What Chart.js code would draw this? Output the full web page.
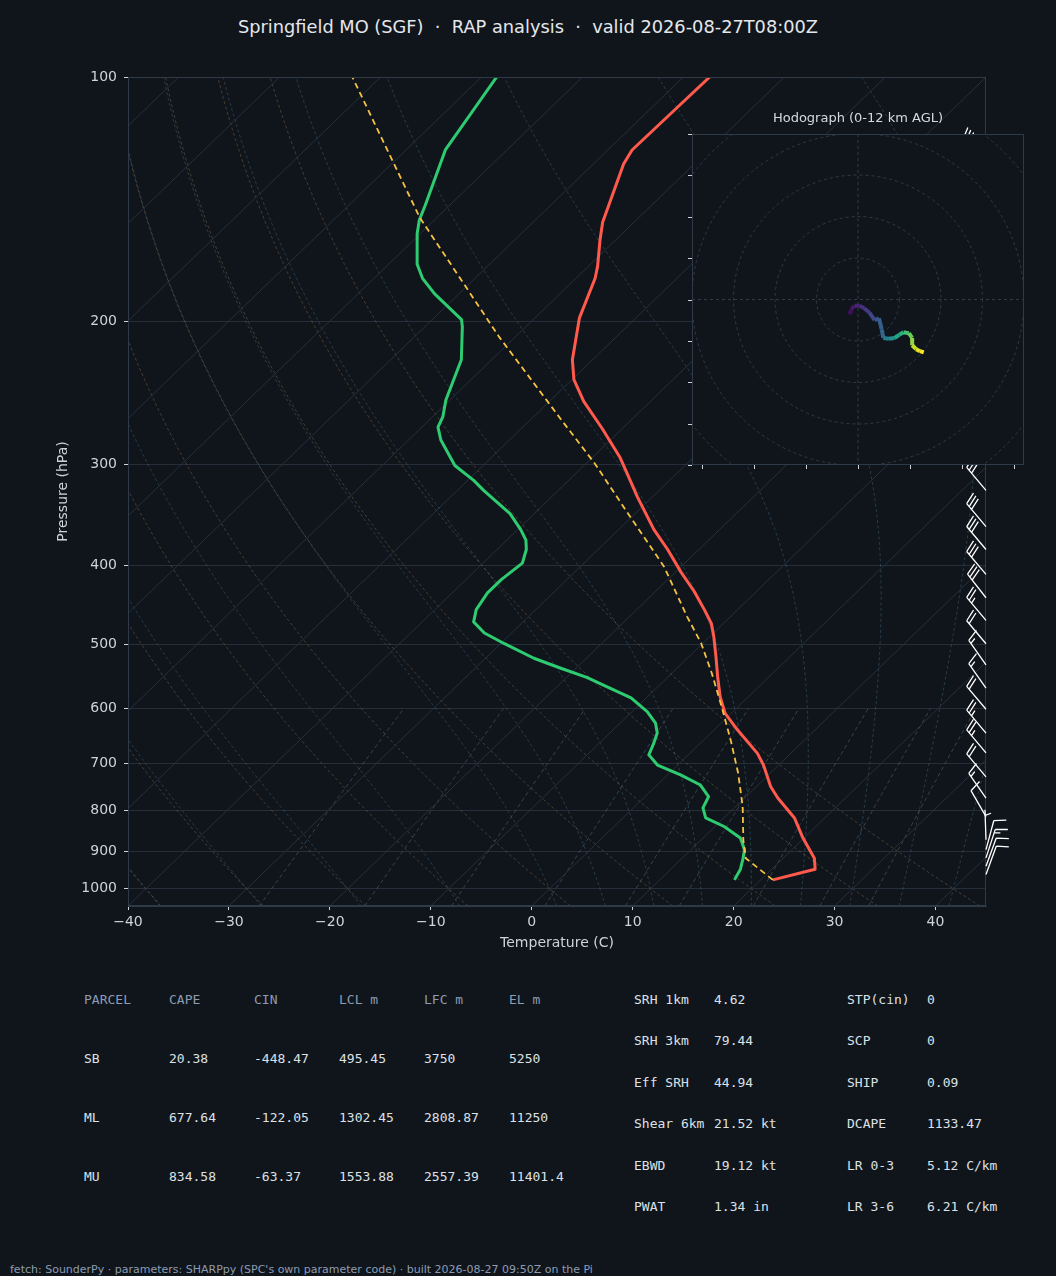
<!DOCTYPE html>
<html>
<head>
<meta charset="utf-8">
<script src="https://cdn.jsdelivr.net/npm/chart.js@4.4.1/dist/chart.umd.min.js"></script>
<style>
html, body { margin: 0; padding: 0; background: #10151c; }
body { width: 1056px; height: 1276px; position: relative; overflow: hidden; font-family: 'DejaVu Sans', sans-serif; }
#main { position: absolute; left: 0; top: 0; }
#hodo { position: absolute; left: 672px; top: 100px; }
#title { position: absolute; left: 0; top: 16px; width: 1056px; text-align: center; color: #e4e7eb; font-size: 17.8px; line-height: 22px; white-space: pre; }
.t { position: absolute; white-space: pre; line-height: 16px; font-family: 'DejaVu Sans Mono', monospace; font-size: 13px; }
#foot { position: absolute; left: 10px; top: 1263px; font-size: 11px; color: #8d9cb2; line-height: 14px; white-space: pre; }
</style>
</head>
<body>
<div id="title"></div>
<canvas id="main" width="1056" height="960"></canvas>
<canvas id="hodo" width="372" height="385"></canvas>
<div id="tables"></div>
<div id="foot"></div>
<script>
const TITLE = 'Springfield MO (SGF)  \u00b7  RAP analysis  \u00b7  valid 2026-08-27T08:00Z';
const FOOTER = "fetch: SounderPy \u00b7 parameters: SHARPpy (SPC's own parameter code) \u00b7 built 2026-08-27 09:50Z on the Pi";

// sounding: pressure (hPa) / temperature (C)
const envP = [975, 946, 917, 866, 818, 773, 748, 704, 681, 637, 608, 580, 548, 518, 489, 471, 453, 430, 407, 382, 361, 329, 314, 294, 271, 251, 236, 223, 198, 177, 171, 159, 151, 128, 123, 100];
const envT = [21.2, 24.3, 23.1, 19.9, 17.0, 13.3, 11.4, 8.5, 6.7, 2.3, -0.6, -2.8, -5.1, -7.3, -9.6, -11.2, -13.3, -16.2, -19.5, -23.1, -26.5, -31.5, -33.9, -37.3, -42.0, -46.6, -49.8, -52.0, -55.6, -58.1, -59.1, -61.5, -63.1, -67.0, -67.6, -67.4];

const dewP = [975, 946, 919, 895, 866, 838, 818, 795, 770, 745, 724, 704, 684, 662, 643, 625, 605, 582, 564, 549, 535, 520, 499, 484, 469, 453, 432, 416, 397, 382, 372, 361, 345, 323, 314, 301, 280, 270, 262, 250, 223, 203, 199, 185, 177, 170, 156, 150, 144, 130, 123, 100];
const dewT = [17.4, 16.9, 16.1, 15.3, 13.7, 10.9, 8.2, 6.9, 6.3, 4.3, 1.3, -2.0, -3.9, -4.6, -5.3, -6.5, -8.5, -11.5, -15.0, -18.0, -21.5, -25.2, -29.6, -32.7, -34.9, -35.9, -36.5, -36.5, -36.1, -37.1, -38.1, -39.7, -42.4, -47.4, -49.4, -52.8, -56.8, -58.4, -59.0, -60.4, -63.0, -66.3, -67.1, -72.4, -75.2, -77.2, -80.3, -81.5, -82.4, -84.8, -86.1, -88.5];

const parcelP = [975, 917, 871, 792, 720, 656, 597, 543, 498, 462, 401, 341, 299, 265, 209, 149, 100];
const parcelT = [21.2, 16.3, 14.2, 10.7, 6.8, 2.7, -1.6, -6.0, -10.2, -14.3, -21.7, -31.4, -39.2, -46.8, -61.6, -81.7, -102.8];

// wind barbs (hPa, direction deg, knots)
const windP = [126, 134, 143, 153, 163, 174, 186, 198, 211, 226, 241, 257, 274, 293, 323, 358, 382, 410, 438, 467, 499, 530, 566, 601, 643, 680, 728, 773, 815, 870, 895, 916, 938, 960];
const windDir = [310, 310, 310, 312, 312, 312, 315, 315, 315, 315, 318, 318, 318, 320, 320, 320, 320, 320, 322, 320, 320, 325, 325, 320, 320, 320, 320, 325, 330, 358, 15, 18, 20, 20];
const windKt = [40, 40, 40, 40, 35, 35, 35, 35, 35, 35, 35, 30, 30, 30, 30, 30, 30, 30, 30, 25, 20, 15, 15, 20, 25, 25, 20, 15, 10, 5, 10, 15, 10, 10];

// hodograph trace (km AGL, u, v in kt)
const hodoKm = [0, 0.4, 0.8, 1.2, 1.6, 2.0, 2.5, 3.0, 3.5, 4.0, 5.0, 6.0, 7.0, 7.6, 8.4, 9.2, 10.0, 10.8, 11.5, 12.0];
const hodoU = [-4.0, -3.2, -1.6, 0.8, 3.0, 5.6, 8.0, 10.1, 11.4, 12.2, 14.9, 17.6, 20.0, 21.9, 24.5, 26.1, 26.1, 28.0, 29.9, 31.7];
const hodoV = [-7.2, -4.8, -3.0, -3.0, -4.2, -6.4, -10.0, -9.1, -14.4, -18.6, -19.0, -18.6, -17.0, -15.8, -16.3, -18.6, -22.1, -24.0, -25.0, -25.6];

const tempTicks = [-40, -30, -20, -10, 0, 10, 20, 30, 40];
const presTicks = [100, 200, 300, 400, 500, 600, 700, 800, 900, 1000];
const hodoRings = [20, 40, 60, 80, 100];
const hodoXTicks = [-75, -50, -25, 0, 25, 50, 75];
const hodoYTicks = [-80, -60, -40, -20, 0, 20, 40, 60, 80];

// parameter tables
const parcelHead = ['PARCEL', 'CAPE', 'CIN', 'LCL m', 'LFC m', 'EL m'];
const parcelName = ['SB', 'ML', 'MU'];
const parcelCape = ['20.38', '677.64', '834.58'];
const parcelCin = ['-448.47', '-122.05', '-63.37'];
const parcelLcl = ['495.45', '1302.45', '1553.88'];
const parcelLfc = ['3750', '2808.87', '2557.39'];
const parcelEl = ['5250', '11250', '11401.4'];
const kinName = ['SRH 1km', 'SRH 3km', 'Eff SRH', 'Shear 6km', 'EBWD', 'PWAT'];
const kinVal = ['4.62', '79.44', '44.94', '21.52 kt', '19.12 kt', '1.34 in'];
const idxName = ['STP(cin)', 'SCP', 'SHIP', 'DCAPE', 'LR 0-3', 'LR 3-6'];
const idxVal = ['0', '0', '0.09', '1133.47', '5.12 C/km', '6.21 C/km'];

// colours
const BG = '#10151c';
const TXT = '#cfd3d9';
const SPINE = '#2f3a48';
const ISOBAR = '#252e39';
const ISOTHERM = '#27303b';
const DRY = 'rgba(140,110,70,0.45)';
const MOIST = 'rgba(70,115,135,0.42)';
const MIX = 'rgba(95,125,140,0.45)';

Chart.defaults.font.family = "'DejaVu Sans', sans-serif";

// skew-T transform: x value = temperature shifted by log pressure
const PBOT = 1050, PTOP = 100, SKEW = 83.26;
const skx = (t, p) => t + SKEW * Math.log10(PBOT / p);
const pts = (ps, ts) => ps.map((p, i) => ({ x: skx(ts[i], p), y: p }));

// reference lines (thermodynamic background, like metpy does)
const presGrid = [];
for (let i = 0; i <= 40; i++) presGrid.push(PBOT * Math.pow(PTOP / PBOT, i / 40));

function moistGrad(p, T) {
    const tc = T - 273.15;
    const es = 6.112 * Math.exp(17.67 * tc / (tc + 243.5));
    const rs = 0.622 * es / (p - es);
    const Lv = 2.50084e6, Rd = 287.04749;
    return (Rd * T + Lv * rs) / (1004.666 + Lv * Lv * rs * 0.622 / (Rd * T * T)) / p;
}
function moistAt(t0, p) {
    let T = t0 + 273.15, pp = 1000;
    const n = 60, h = (p - 1000) / n;
    for (let i = 0; i < n; i++) {
        const k1 = moistGrad(pp, T);
        const k2 = moistGrad(pp + h / 2, T + h * k1 / 2);
        const k3 = moistGrad(pp + h / 2, T + h * k2 / 2);
        const k4 = moistGrad(pp + h, T + h * k3);
        T += h * (k1 + 2 * k2 + 2 * k3 + k4) / 6;
        pp += h;
    }
    return T - 273.15;
}
function dewFromMix(w, p) {
    const e = w * p / (0.622 + w);
    const l = Math.log(e / 6.112);
    return 243.5 * l / (17.67 - l);
}

const bgSets = [];
function bgLine(data, color, dash) {
    bgSets.push({ data: data, showLine: true, borderColor: color, borderWidth: 1, borderDash: dash, pointRadius: 0, order: 10 });
}
for (let t = -120; t <= 40; t += 10) bgLine(pts([PBOT, PTOP], [t, t]), ISOTHERM, []);
for (let t = -40; t <= 40; t += 10) {
    bgLine(pts(presGrid, presGrid.map(p => (t + 273.15) * Math.pow(p / 1000, 0.2857) - 273.15)), DRY, [3, 2.5]);
}
const moistT0 = [-40, -30, -20, -10, 0, 5, 10, 15, 20, 25, 30, 35, 40, 45];
moistT0.forEach(t => bgLine(pts(presGrid, presGrid.map(p => moistAt(t, p))), MOIST, [3, 2.5]));
const mixW = [0.0004, 0.001, 0.002, 0.004, 0.007, 0.01, 0.016, 0.024, 0.032];
const mixP = [1050, 1000, 950, 900, 850, 800, 750, 700, 650, 600];
mixW.forEach(w => bgLine(pts(mixP, mixP.map(p => dewFromMix(w, p))), MIX, [4, 3]));

function drawBarb(ctx, x, y, dir, spd, L) {
    const a = dir * Math.PI / 180;
    const dx = Math.sin(a), dy = -Math.cos(a);
    const px = -dy, py = dx;
    const h = 0.4 * L, w = 0.25 * L, sp = 0.125 * L;
    let r = Math.round(spd / 5) * 5;
    const flags = Math.floor(r / 50); r -= flags * 50;
    const full = Math.floor(r / 10); r -= full * 10;
    const half = r >= 5;
    const at = s => [x + dx * s, y + dy * s];
    ctx.beginPath();
    ctx.moveTo(x, y);
    ctx.lineTo(...at(L));
    let off = L;
    for (let i = 0; i < flags; i++) {
        const [ax, ay] = at(off), [bx, by] = at(off - w / 2), [cx, cy] = at(off - w);
        ctx.moveTo(ax, ay); ctx.lineTo(bx + px * h, by + py * h); ctx.lineTo(cx, cy);
        off -= w + sp;
    }
    for (let i = 0; i < full; i++) {
        const [ax, ay] = at(off), [bx, by] = at(off + w / 2);
        ctx.moveTo(ax, ay); ctx.lineTo(bx + px * h, by + py * h);
        off -= sp;
    }
    if (half) {
        if (off === L) off -= 1.5 * sp;
        const [ax, ay] = at(off), [bx, by] = at(off + w / 4);
        ctx.moveTo(ax, ay); ctx.lineTo(bx + px * h / 2, by + py * h / 2);
    }
    ctx.stroke();
}

const skewFrame = {
    id: 'skewFrame',
    afterDatasetsDraw(chart) {
        const { ctx, chartArea: a, scales: { y } } = chart;
        ctx.save();
        ctx.strokeStyle = SPINE;
        ctx.lineWidth = 1;
        ctx.strokeRect(a.left + 0.5, a.top + 0.5, a.width - 1, a.height - 1);
        ctx.strokeStyle = '#ffffff';
        ctx.lineWidth = 1.3;
        windP.forEach((p, i) => drawBarb(ctx, a.right, y.getPixelForValue(p), windDir[i], windKt[i], 30));
        ctx.restore();
    }
};

const fmtT = v => v < 0 ? '\u2212' + Math.abs(v) : String(v);

new Chart(document.getElementById('main'), {
    type: 'scatter',
    data: {
        datasets: [
            { data: pts(parcelP, parcelT), showLine: true, borderColor: '#f5c242', borderWidth: 1.8, borderDash: [6, 4], pointRadius: 0, order: 0 },
            { data: pts(envP, envT), showLine: true, borderColor: '#ff5a4c', borderWidth: 3, pointRadius: 0, borderJoinStyle: 'round', order: 1 },
            { data: pts(dewP, dewT), showLine: true, borderColor: '#2ecc71', borderWidth: 3, pointRadius: 0, borderJoinStyle: 'round', order: 2 }
        ].concat(bgSets)
    },
    options: {
        responsive: false,
        animation: false,
        devicePixelRatio: 1,
        layout: { padding: { left: 54.6, right: 70, top: 77, bottom: 8.6 } },
        plugins: { legend: { display: false }, tooltip: { enabled: false } },
        elements: { line: { tension: 0 } },
        scales: {
            x: {
                type: 'linear', min: -40, max: 45,
                afterBuildTicks: s => { s.ticks = tempTicks.map(v => ({ value: v })); },
                afterFit: s => { s.height = 45.4; },
                ticks: { color: TXT, font: { size: 14 }, padding: 4, maxRotation: 0, autoSkip: false, callback: v => fmtT(v) },
                grid: { drawOnChartArea: false, drawTicks: true, tickLength: 4, tickColor: TXT, color: TXT },
                border: { display: true, color: SPINE },
                title: { display: true, text: 'Temperature (C)', color: TXT, font: { size: 14 }, padding: 0 }
            },
            y: {
                type: 'logarithmic', reverse: true, min: PTOP, max: PBOT, position: 'left',
                afterBuildTicks: s => { s.ticks = presTicks.map(v => ({ value: v })); },
                afterFit: s => { s.width = 73.4; },
                ticks: { color: TXT, font: { size: 14 }, padding: 7, autoSkip: false, callback: v => String(v) },
                grid: { color: ISOBAR, tickColor: TXT, tickLength: 4, drawTicks: true },
                border: { display: true, color: SPINE },
                title: { display: true, text: 'Pressure (hPa)', color: TXT, font: { size: 14 }, padding: 0 }
            }
        }
    },
    plugins: [skewFrame]
});

// hodograph inset
const viridisStops = ['#440154', '#482475', '#414487', '#355f8d', '#2a788e', '#21918c', '#22a884', '#44bf70', '#7ad151', '#bddf26', '#fde725'];
function viridis(f) {
    f = Math.max(0, Math.min(1, f)) * (viridisStops.length - 1);
    const i = Math.min(Math.floor(f), viridisStops.length - 2), t = f - i;
    const c0 = viridisStops[i], c1 = viridisStops[i + 1];
    const ch = (c, k) => parseInt(c.substr(1 + 2 * k, 2), 16);
    const mix = k => Math.round(ch(c0, k) + (ch(c1, k) - ch(c0, k)) * t);
    return 'rgb(' + mix(0) + ',' + mix(1) + ',' + mix(2) + ')';
}

const hodoFrame = {
    id: 'hodoFrame',
    beforeDatasetsDraw(chart) {
        const { ctx, chartArea: a, scales: { x, y } } = chart;
        ctx.save();
        ctx.fillStyle = BG;
        ctx.fillRect(a.left, a.top, a.width, a.height);
        ctx.beginPath();
        ctx.rect(a.left, a.top, a.width, a.height);
        ctx.clip();
        const cx = x.getPixelForValue(0), cy = y.getPixelForValue(0);
        ctx.strokeStyle = '#2f3a47';
        ctx.lineWidth = 1;
        ctx.setLineDash([3, 3]);
        hodoRings.forEach(r => {
            ctx.beginPath();
            ctx.arc(cx, cy, x.getPixelForValue(r) - cx, 0, 2 * Math.PI);
            ctx.stroke();
        });
        ctx.beginPath();
        ctx.moveTo(a.left, cy); ctx.lineTo(a.right, cy);
        ctx.moveTo(cx, a.top); ctx.lineTo(cx, a.bottom);
        ctx.stroke();
        ctx.restore();
    },
    afterDatasetsDraw(chart) {
        const { ctx, chartArea: a, scales: { x, y } } = chart;
        ctx.save();
        ctx.strokeStyle = SPINE;
        ctx.lineWidth = 1;
        ctx.strokeRect(a.left + 0.5, a.top + 0.5, a.width - 1, a.height - 1);
        ctx.strokeStyle = TXT;
        ctx.beginPath();
        hodoXTicks.forEach(v => { const px = Math.round(x.getPixelForValue(v)) + 0.5; ctx.moveTo(px, a.bottom); ctx.lineTo(px, a.bottom + 4); });
        hodoYTicks.forEach(v => { const py = Math.round(y.getPixelForValue(v)) + 0.5; ctx.moveTo(a.left, py); ctx.lineTo(a.left - 4, py); });
        ctx.stroke();
        ctx.fillStyle = '#d6dae0';
        ctx.font = "13px 'DejaVu Sans'";
        ctx.textAlign = 'center';
        ctx.textBaseline = 'middle';
        ctx.fillText('Hodograph (0-12 km AGL)', (a.left + a.right) / 2, a.top - 15);
        ctx.restore();
    }
};

new Chart(document.getElementById('hodo'), {
    type: 'scatter',
    data: {
        datasets: [{
            data: hodoU.map((u, i) => ({ x: u, y: hodoV[i] })),
            showLine: true,
            borderWidth: 4,
            borderCapStyle: 'butt',
            pointRadius: 0,
            segment: { borderColor: c => viridis(hodoKm[c.p1DataIndex] / 12) }
        }]
    },
    options: {
        responsive: false,
        animation: false,
        devicePixelRatio: 1,
        layout: { padding: { left: 20, right: 20, top: 34, bottom: 20 } },
        plugins: { legend: { display: false }, tooltip: { enabled: false } },
        elements: { line: { tension: 0 } },
        scales: {
            x: { type: 'linear', min: -80, max: 80, display: false },
            y: { type: 'linear', min: -80, max: 80, display: false }
        }
    },
    plugins: [hodoFrame]
});

// title, tables, footer
document.getElementById('title').textContent = TITLE;
document.getElementById('foot').textContent = FOOTER;
const tbl = document.getElementById('tables');
function put(text, x, yc, color) {
    const d = document.createElement('div');
    d.className = 't';
    d.style.left = x + 'px';
    d.style.top = (yc - 8) + 'px';
    d.style.color = color;
    d.textContent = text;
    tbl.appendChild(d);
}
const HEAD = '#8d9cb2', VAL = '#dde1e6';
const colX = [84, 169, 254, 339, 424, 509];
const rowY = [1059, 1118, 1177];
parcelHead.forEach((h, i) => put(h, colX[i], 1000, HEAD));
parcelName.forEach((n, r) => {
    [n, parcelCape[r], parcelCin[r], parcelLcl[r], parcelLfc[r], parcelEl[r]].forEach((v, i) => put(v, colX[i], rowY[r], VAL));
});
const kinY = [1000, 1041, 1083, 1124, 1166, 1207];
kinName.forEach((n, r) => {
    put(n, 634, kinY[r], VAL);
    put(kinVal[r], 714, kinY[r], VAL);
    put(idxName[r], 847, kinY[r], VAL);
    put(idxVal[r], 927, kinY[r], VAL);
});
</script>
</body>
</html>
